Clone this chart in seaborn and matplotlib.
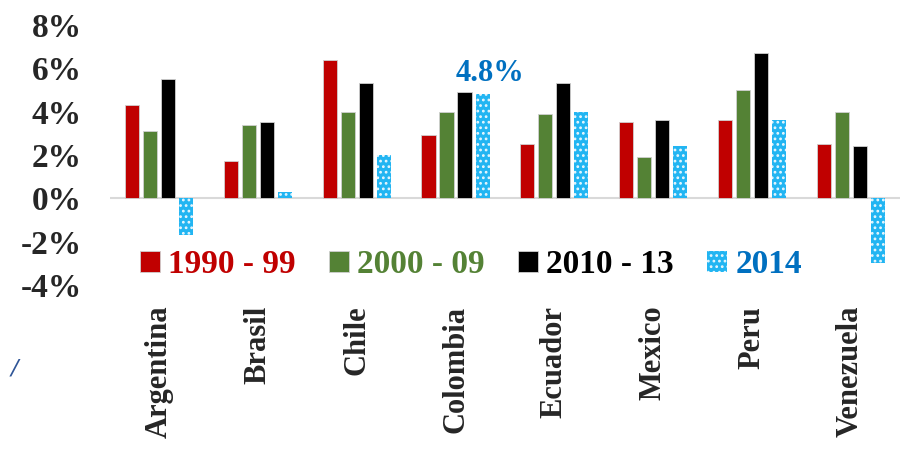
import pandas as pd
import matplotlib.pyplot as plt
import seaborn as sns
from matplotlib.ticker import FuncFormatter

countries = ['Argentina', 'Brasil', 'Chile', 'Colombia', 'Ecuador', 'Mexico', 'Peru', 'Venezuela']
periods = ['1990 - 99', '2000 - 09', '2010 - 13', '2014']
v_1990 = [4.3, 1.7, 6.4, 2.9, 2.5, 3.5, 3.6, 2.5]
v_2000 = [3.1, 3.4, 4.0, 4.0, 3.9, 1.9, 5.0, 4.0]
v_2010 = [5.5, 3.5, 5.3, 4.9, 5.3, 3.6, 6.7, 2.4]
v_2014 = [-1.7, 0.3, 2.0, 4.8, 4.0, 2.4, 3.6, -3.0]

bar_colors = ['#C00000', '#548235', '#000000', '#22B5F2']
text_colors = ['#C00000', '#548235', '#000000', '#0070C0']

rows = []
for p, vals in zip(periods, [v_1990, v_2000, v_2010, v_2014]):
    for c, v in zip(countries, vals):
        rows.append({'Pais': c, 'Periodo': p, 'Valor': v})
df = pd.DataFrame(rows)

sns.set_style('white')
plt.rcParams['font.family'] = ['Liberation Serif', 'DejaVu Serif']
plt.rcParams['font.weight'] = 'bold'
plt.rcParams['hatch.linewidth'] = 1.2

fig = plt.figure(figsize=(9, 4.51), dpi=100)
ax = fig.add_axes([0.122, 0.368, 0.878, 0.577])

sns.barplot(data=df, x='Pais', y='Valor', hue='Periodo', palette=bar_colors,
            saturation=1, width=0.73, gap=0.22, ax=ax,
            edgecolor='#D0D0D0', linewidth=0.6)

for patch in ax.containers[3]:
    patch.set_edgecolor('#E8F7FE')
    patch.set_hatch('...')
    patch.set_linewidth(0)

ax.set_ylim(-4, 8)
ax.set_yticks([-4, -2, 0, 2, 4, 6, 8])
ax.yaxis.set_major_formatter(FuncFormatter(lambda v, _: f'{v:.0f}%'))
ax.axhline(0, color='#D9D9D9', lw=1.5, zorder=0)
ax.set_xlabel('')
ax.set_ylabel('')
for s in ax.spines.values():
    s.set_visible(False)
ax.tick_params(axis='y', length=0, pad=20, labelsize=24)
ax.tick_params(axis='x', length=0, pad=15, labelsize=22)
for lbl in ax.get_xticklabels():
    lbl.set_rotation(90)
    lbl.set_va('top')
    lbl.set_ha('center')
for lbl in ax.get_yticklabels() + ax.get_xticklabels():
    lbl.set_fontweight('bold')

# etiqueta de Colombia 2014
ax.text(3.35, 4.8 + 0.3, '4.8%', color='#0070C0', fontsize=22, fontweight='bold',
        ha='center', va='bottom')

ax.legend_.remove()
leg = ax.legend(ax.containers, periods, loc='center', bbox_to_anchor=(0.457, 0.077),
                ncol=4, frameon=False, prop={'size': 24, 'weight': 'bold'},
                handlelength=0.6, handleheight=0.6, handletextpad=0.25,
                columnspacing=1.0, borderaxespad=0)
for t, c in zip(leg.get_texts(), text_colors):
    t.set_color(c)

fig.text(0.012, 0.17, '/', color='#2F5597', fontsize=16, style='italic', fontweight='normal',
         family='DejaVu Sans')

fig.savefig('out.png', dpi=100)
